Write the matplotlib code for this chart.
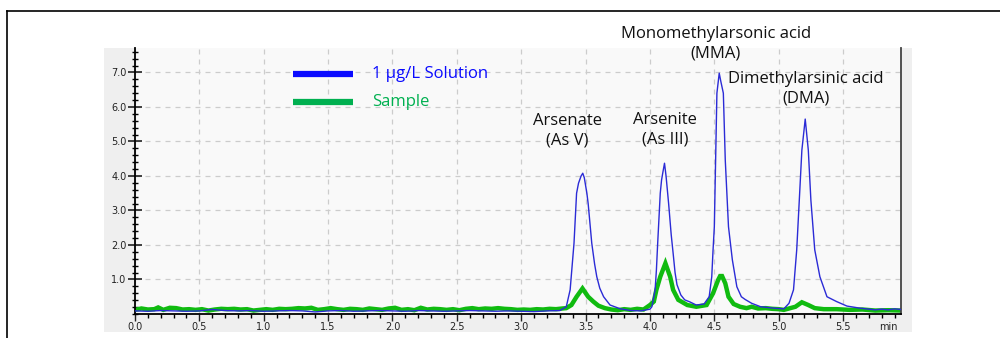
import matplotlib
matplotlib.use('Agg')
import matplotlib.pyplot as plt
from matplotlib.patches import Rectangle
from matplotlib.lines import Line2D
from matplotlib.ticker import MultipleLocator, FixedLocator

# -------------------------
# DATA
# -------------------------
solution_time = [0.00, 0.10, 0.20, 0.30, 0.40, 0.50, 0.60, 0.70, 0.80, 0.90,
                 1.00, 1.10, 1.20, 1.30, 1.40, 1.50, 1.60, 1.70, 1.80, 1.90,
                 2.00, 2.10, 2.20, 2.30, 2.40, 2.50, 2.60, 2.70, 2.80, 2.90,
                 3.00, 3.10, 3.20, 3.30, 3.35, 3.38, 3.41, 3.43, 3.445, 3.465,
                 3.478, 3.49, 3.51, 3.52, 3.548, 3.57, 3.587, 3.61, 3.64, 3.69,
                 3.77, 3.85, 3.93, 4.00, 4.015, 4.04, 4.05, 4.06, 4.08, 4.09,
                 4.10, 4.113, 4.125, 4.145, 4.165, 4.18, 4.195, 4.21, 4.24, 4.27,
                 4.31, 4.36, 4.42, 4.46, 4.48, 4.49, 4.50, 4.51, 4.52, 4.538,
                 4.55, 4.57, 4.585, 4.61, 4.64, 4.675, 4.71, 4.74, 4.79, 4.86,
                 4.96, 5.04, 5.08, 5.115, 5.14, 5.16, 5.18, 5.206, 5.23, 5.25,
                 5.28, 5.32, 5.375, 5.45, 5.53, 5.63, 5.70, 5.75, 5.80, 5.85,
                 5.90, 5.95]
solution_signal = [0.09, 0.08, 0.10, 0.09, 0.08, 0.09, 0.13, 0.10, 0.09, 0.10,
                   0.08, 0.09, 0.10, 0.09, 0.06, 0.09, 0.10, 0.08, 0.09, 0.10,
                   0.09, 0.08, 0.10, 0.09, 0.08, 0.09, 0.10, 0.09, 0.08, 0.09,
                   0.08, 0.07, 0.09, 0.10, 0.21, 0.70, 2.05, 3.50, 3.79, 4.00,
                   4.08, 3.95, 3.50, 3.20, 2.05, 1.45, 1.08, 0.75, 0.50, 0.26,
                   0.15, 0.10, 0.09, 0.14, 0.21, 0.70, 1.27, 2.05, 3.50, 3.88,
                   4.10, 4.37, 4.00, 3.20, 2.30, 1.76, 1.20, 0.85, 0.55, 0.41,
                   0.35, 0.26, 0.29, 0.50, 1.08, 1.85, 2.53, 4.46, 6.40, 6.98,
                   6.75, 6.40, 4.46, 2.53, 1.57, 0.79, 0.50, 0.42, 0.31, 0.21,
                   0.17, 0.15, 0.31, 0.70, 1.86, 3.30, 4.75, 5.65, 4.75, 3.30,
                   1.86, 1.08, 0.50, 0.36, 0.23, 0.17, 0.14, 0.12, 0.14, 0.12,
                   0.15, 0.13]

sample_time = [0.00, 0.05, 0.10, 0.15, 0.18, 0.22, 0.27, 0.32, 0.37, 0.42,
               0.47, 0.52, 0.57, 0.62, 0.67, 0.72, 0.77, 0.82, 0.87, 0.92,
               0.97, 1.02, 1.07, 1.12, 1.17, 1.22, 1.27, 1.32, 1.37, 1.42,
               1.47, 1.52, 1.57, 1.62, 1.67, 1.72, 1.77, 1.82, 1.87, 1.92,
               1.97, 2.02, 2.07, 2.12, 2.17, 2.22, 2.27, 2.32, 2.37, 2.42,
               2.47, 2.52, 2.57, 2.62, 2.67, 2.72, 2.77, 2.82, 2.87, 2.92,
               2.97, 3.02, 3.07, 3.12, 3.17, 3.22, 3.27, 3.32, 3.35, 3.39,
               3.43, 3.476, 3.52, 3.56, 3.60, 3.65, 3.70, 3.75, 3.80, 3.85,
               3.90, 3.95, 4.00, 4.03, 4.05, 4.08, 4.12, 4.157, 4.18, 4.22,
               4.29, 4.36, 4.44, 4.49, 4.53, 4.545, 4.56, 4.585, 4.61, 4.65,
               4.70, 4.75, 4.79, 4.84, 4.90, 4.95, 5.00, 5.04, 5.09, 5.13,
               5.18, 5.23, 5.28, 5.35, 5.45, 5.55, 5.65, 5.75, 5.85, 5.95]
sample_signal = [0.12, 0.16, 0.13, 0.14, 0.19, 0.12, 0.18, 0.17, 0.13, 0.14,
                 0.12, 0.14, 0.10, 0.13, 0.15, 0.14, 0.15, 0.13, 0.14, 0.10,
                 0.12, 0.14, 0.12, 0.15, 0.14, 0.15, 0.17, 0.16, 0.18, 0.12,
                 0.14, 0.17, 0.14, 0.12, 0.15, 0.14, 0.12, 0.16, 0.14, 0.12,
                 0.16, 0.18, 0.12, 0.14, 0.11, 0.18, 0.13, 0.15, 0.14, 0.12,
                 0.14, 0.11, 0.15, 0.17, 0.14, 0.16, 0.15, 0.17, 0.15, 0.14,
                 0.12, 0.13, 0.12, 0.14, 0.13, 0.15, 0.14, 0.16, 0.17, 0.26,
                 0.50, 0.74, 0.50, 0.36, 0.24, 0.17, 0.13, 0.11, 0.14, 0.12,
                 0.15, 0.13, 0.26, 0.36, 0.70, 1.08, 1.47, 1.08, 0.70, 0.41,
                 0.26, 0.21, 0.26, 0.60, 0.99, 1.10, 1.10, 0.89, 0.50, 0.29,
                 0.21, 0.17, 0.21, 0.16, 0.17, 0.15, 0.14, 0.12, 0.17, 0.21,
                 0.34, 0.26, 0.17, 0.14, 0.14, 0.12, 0.13, 0.10, 0.11, 0.10]

series_labels = ["1 \u00b5g/L Solution", "Sample"]
y_tick_values = [1.0, 2.0, 3.0, 4.0, 5.0, 6.0, 7.0]
x_tick_values = [0.0, 0.5, 1.0, 1.5, 2.0, 2.5, 3.0, 3.5, 4.0, 4.5, 5.0, 5.5]

peak_names = ["Arsenate\n(As V)", "Arsenite\n(As III)",
              "Monomethylarsonic acid\n(MMA)", "Dimethylarsinic acid\n(DMA)"]
peak_label_x = [3.36, 4.12, 4.51, 5.21]
peak_label_y = [5.32, 5.35, 7.84, 6.52]

# -------------------------
# FIGURE
# -------------------------
W, H = 1000, 338
fig = plt.figure(figsize=(10, 3.38), dpi=100)
fig.patch.set_facecolor('white')

# outer frame (left + top edges visible)
fig.add_artist(Line2D([7 / W, 7 / W], [0, 1 - 11 / H], color='black', lw=1.2))
fig.add_artist(Line2D([7 / W, 1], [1 - 11 / H, 1 - 11 / H], color='black', lw=1.2))

# gray panel behind the plot
fig.add_artist(Rectangle((104 / W, 1 - 332 / H), (912 - 104) / W, (332 - 48) / H,
                         facecolor='#efefef', edgecolor='none', zorder=0))

ax = fig.add_axes([135 / W, 1 - 314 / H, (901 - 135) / W, (314 - 48) / H])
ax.set_facecolor('#f9f9f9')
ax.set_xlim(0, 5.95)
ax.set_ylim(0, 7.71)

ax.grid(True, which='major', color='#cccccc', linestyle=(0, (4, 4)), lw=0.9)
ax.set_axisbelow(True)

ax.plot(solution_time, solution_signal, color='#2b2bd6', lw=1.0, zorder=3)
ax.plot(sample_time, sample_signal, color='#10bb10', lw=3.2, zorder=2,
        solid_joinstyle='miter')

# ticks
ax.xaxis.set_major_locator(FixedLocator(x_tick_values))
ax.xaxis.set_minor_locator(MultipleLocator(0.1))
ax.yaxis.set_major_locator(FixedLocator(y_tick_values))
ax.yaxis.set_minor_locator(MultipleLocator(0.2))
ax.set_xticklabels([f"{v:.1f}" for v in x_tick_values])
ax.set_yticklabels([f"{v:.1f}" for v in y_tick_values])
ax.tick_params(axis='y', which='major', direction='inout', length=10, width=1.2,
               labelsize=7, pad=1, colors='#222222')
ax.tick_params(axis='y', which='minor', direction='inout', length=4, width=1)
ax.tick_params(axis='x', which='major', direction='out', length=5, width=1,
               labelsize=7, pad=1, colors='#222222')
ax.tick_params(axis='x', which='minor', direction='out', length=3, width=1)

ax.spines['top'].set_visible(False)
ax.spines['left'].set_linewidth(1.3)
ax.spines['bottom'].set_linewidth(1.3)
ax.spines['right'].set_color('#444444')
ax.spines['right'].set_linewidth(1.3)

ax.text(5.85, -0.22, "min", fontsize=7, color='#222222', ha='center', va='top')

# legend drawn by hand
legend_colors = ['#0a0aff', '#00b050']
legend_y = [6.97, 6.14]
for lab, col, ly in zip(series_labels, legend_colors, legend_y):
    ax.plot([1.23, 1.69], [ly, ly], color=col, lw=4.5, solid_capstyle='butt',
            zorder=4)
    ax.text(1.84, ly, lab, color=col, fontsize=12, family='Open Sans',
            va='center', ha='left', zorder=4)

# peak annotations
for name, px, py in zip(peak_names, peak_label_x, peak_label_y):
    ax.text(px, py, name, fontsize=12, family='Open Sans', color='#111111',
            ha='center', va='center', linespacing=1.3, clip_on=False)

fig.savefig('out.png', dpi=100)
